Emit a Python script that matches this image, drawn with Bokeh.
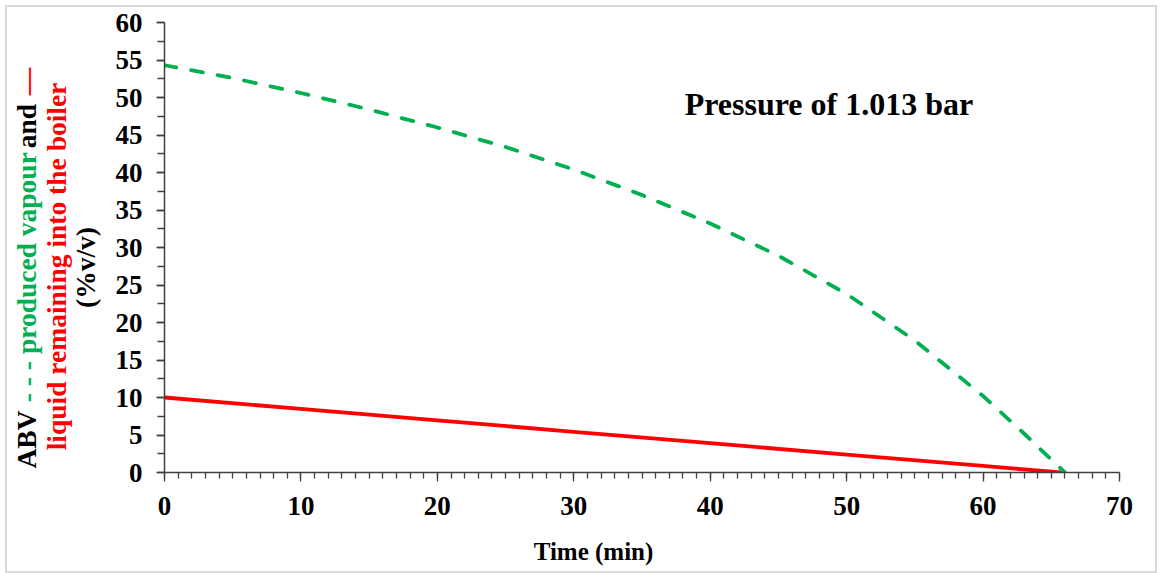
from bokeh.plotting import figure
from bokeh.models import Label, SingleIntervalTicker, Range1d
from bokeh.layouts import row, column
from bokeh.embed import file_html
from bokeh.resources import INLINE

# ---- data ----
vapour_time = [0, 5, 10, 15, 20, 25, 30, 35, 40, 45, 50, 55, 60, 63, 66]
vapour_abv = [54.3, 52.6, 50.6, 48.4, 46.0, 43.4, 40.4, 37.0, 33.2, 28.9, 23.8, 17.6, 10.2, 5.2, 0.0]

liquid_time = [0, 10, 20, 30, 40, 50, 60, 65.7]
liquid_abv = [10.0, 8.48, 6.96, 5.43, 3.91, 2.39, 0.87, 0.0]

annotation_text = "Pressure of 1.013 bar"
x_title = "Time (min)"
y_line1 = [("ABV", "black"), ("- - - produced vapour", "#00B050"), ("and", "black"), ("\u2014", "#FF0000")]
y_line2 = "liquid remaining into the boiler"
y_line3 = "(%v/v)"

GREEN = "#00B050"
RED = "#FF0000"
FONT = "Liberation Serif"

ORIGIN = 7                 # page offset of the bordered block
TOTAL_W, TOTAL_H = 1148, 564
LEFT_W = 102
TOP, FRAME_H, AX_BOTTOM = 15, 450, 60
MAIN_H = TOP + FRAME_H + AX_BOTTOM
STRIP_H = TOTAL_H - MAIN_H

# ---------- main plot ----------
p = figure(width=TOTAL_W - LEFT_W, height=MAIN_H, output_backend="svg", toolbar_location=None,
           x_range=Range1d(0, 70), y_range=Range1d(0, 60),
           min_border_left=55, min_border_right=36, min_border_top=TOP, min_border_bottom=AX_BOTTOM)
p.outline_line_color = None
p.grid.grid_line_color = None

p.line(vapour_time, vapour_abv, line_color=GREEN, line_width=3.8, line_dash="12 15", line_cap="round")
p.line(liquid_time, liquid_abv, line_color=RED, line_width=3.8)

for ax in (p.xaxis[0], p.yaxis[0]):
    ax.axis_line_color = "#404040"
    ax.axis_line_width = 1.5
    ax.major_tick_line_color = "#404040"
    ax.minor_tick_line_color = "#404040"
    ax.major_tick_line_width = 1.3
    ax.minor_tick_line_width = 1.3
    ax.major_tick_in = 0
    ax.minor_tick_in = 0
    ax.major_label_text_font = FONT
    ax.major_label_text_font_style = "bold"
    ax.major_label_text_color = "black"
    ax.major_label_text_font_size = "27px"

p.xaxis.ticker = SingleIntervalTicker(interval=10, num_minor_ticks=10)
p.xaxis.major_tick_out = 9
p.xaxis.minor_tick_out = 6
p.xaxis.major_label_standoff = 15

p.yaxis.ticker = SingleIntervalTicker(interval=5, num_minor_ticks=2)
p.yaxis.major_tick_out = 8
p.yaxis.minor_tick_out = 7
p.yaxis.major_label_standoff = 14

p.add_layout(Label(x=48.7, y=49.2, text=annotation_text, text_font=FONT,
                   text_font_style="bold", text_font_size="32px", text_color="black",
                   text_align="center", text_baseline="middle"))

# ---------- left panel with the multi-coloured rotated axis title ----------
lp = figure(width=LEFT_W, height=MAIN_H, output_backend="svg", toolbar_location=None,
            x_range=Range1d(0, LEFT_W), y_range=Range1d(0, FRAME_H),
            min_border_left=0, min_border_right=0, min_border_top=TOP, min_border_bottom=AX_BOTTOM)
lp.axis.visible = False
lp.grid.grid_line_color = None
lp.outline_line_color = None

# Liberation Serif Bold advance widths (per 1000 em)
W = {' ': 250, 'A': 722, 'B': 667, 'V': 722, '-': 333, 'p': 556, 'r': 444, 'o': 500, 'd': 556,
     'u': 556, 'c': 444, 'e': 444, 'v': 500, 'a': 500, 'n': 556, 'l': 278, 'i': 278, 'q': 556,
     'm': 833, 'g': 500, 't': 333, 'h': 556, 'b': 556, '(': 333, ')': 333, '%': 1000, '/': 278,
     '\u2014': 1000}

def tw(s, fs):
    return sum(W.get(c, 500) for c in s) * fs / 1000.0

def lx(page_x):
    return page_x - ORIGIN

def ly(page_y):
    return (ORIGIN + TOP + FRAME_H) - page_y

FS = 27.5
SCALE = 0.975          # rendered width / nominal metric width
SPACE = tw(" ", FS) * SCALE + 3
center_py = 268
total = sum(tw(s, FS) * SCALE for s, _ in y_line1) + SPACE * (len(y_line1) - 1)
start = center_py + total / 2.0
for s, col in y_line1:
    lp.add_layout(Label(x=lx(26), y=ly(start), text=s, text_font=FONT, text_font_style="bold",
                        text_font_size=f"{FS}px", text_color=col, angle=1.5707963,
                        text_align="left", text_baseline="middle"))
    start -= tw(s, FS) * SCALE + SPACE

lp.add_layout(Label(x=lx(56), y=ly(266), text=y_line2,
                    text_font=FONT, text_font_style="bold", text_font_size=f"{FS}px",
                    text_color=RED, angle=1.5707963, text_align="center", text_baseline="middle"))
lp.add_layout(Label(x=lx(85), y=ly(267), text=y_line3,
                    text_font=FONT, text_font_style="bold", text_font_size=f"{FS}px",
                    text_color="black", angle=1.5707963, text_align="center", text_baseline="middle"))

# ---------- bottom strip holding the x-axis title ----------
bp = figure(width=TOTAL_W, height=STRIP_H, output_backend="svg", toolbar_location=None,
            x_range=Range1d(0, TOTAL_W), y_range=Range1d(0, STRIP_H),
            min_border_left=0, min_border_right=0, min_border_top=0, min_border_bottom=0)
bp.axis.visible = False
bp.grid.grid_line_color = None
bp.outline_line_color = None
bp.add_layout(Label(x=593 - ORIGIN, y=(ORIGIN + TOTAL_H) - 551, text=x_title, text_font=FONT,
                    text_font_style="bold", text_font_size="25px", text_color="black",
                    text_align="center", text_baseline="middle"))

layout = column(row(lp, p, spacing=0), bp, spacing=0)
layout.styles = {"margin": f"{ORIGIN}px", "outline": "2px solid #d9d9d9"}

open("out.html", "w").write(file_html(layout, INLINE))
